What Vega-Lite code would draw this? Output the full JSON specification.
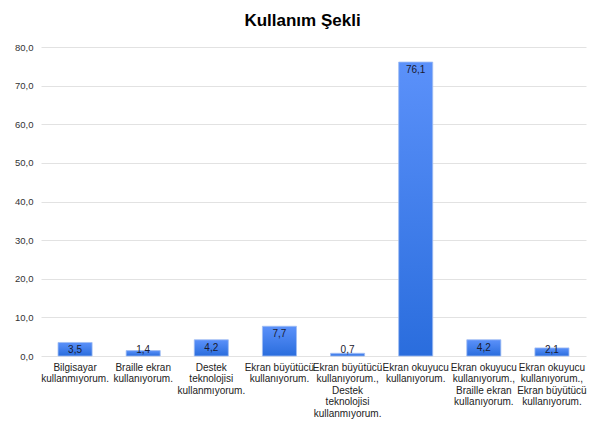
{
  "$schema": "https://vega.github.io/schema/vega-lite/v6.json",
  "autosize": "none",
  "width": 545,
  "height": 309,
  "padding": {"left": 41, "top": 47, "right": 4, "bottom": 67},
  "background": "white",
  "title": {
    "text": "Kullanım Şekli",
    "font": "Liberation Sans",
    "fontSize": 17,
    "fontWeight": "bold",
    "color": "#000000",
    "anchor": "middle",
    "dx": -11,
    "offset": 12
  },
  "data": {
    "values": [
      {"kategori": "Bilgisayar\nkullanmıyorum.", "deger": 3.5, "etiket": "3,5"},
      {"kategori": "Braille ekran\nkullanıyorum.", "deger": 1.4, "etiket": "1,4"},
      {"kategori": "Destek\nteknolojisi\nkullanmıyorum.", "deger": 4.2, "etiket": "4,2"},
      {"kategori": "Ekran büyütücü\nkullanıyorum.", "deger": 7.7, "etiket": "7,7"},
      {"kategori": "Ekran büyütücü\nkullanıyorum.,\nDestek\nteknolojisi\nkullanmıyorum.", "deger": 0.7, "etiket": "0,7"},
      {"kategori": "Ekran okuyucu\nkullanıyorum.", "deger": 76.1, "etiket": "76,1"},
      {"kategori": "Ekran okuyucu\nkullanıyorum.,\nBraille ekran\nkullanıyorum.", "deger": 4.2, "etiket": "4,2"},
      {"kategori": "Ekran okuyucu\nkullanıyorum.,\nEkran büyütücü\nkullanıyorum.", "deger": 2.1, "etiket": "2,1"}
    ]
  },
  "encoding": {
    "x": {
      "field": "kategori",
      "type": "nominal",
      "sort": null,
      "scale": {"paddingInner": 0.5, "paddingOuter": 0.25},
      "axis": {
        "title": null,
        "labelAngle": 0,
        "labelExpr": "split(datum.label, '\\n')",
        "labelFont": "Liberation Sans",
        "labelFontSize": 10,
        "labelColor": "#222222",
        "labelLineHeight": 11.5,
        "labelPadding": 6,
        "ticks": false,
        "domain": false,
        "labelLimit": 0
      }
    },
    "y": {
      "field": "deger",
      "type": "quantitative",
      "scale": {"domain": [0, 80]},
      "axis": {
        "title": null,
        "values": [0, 10, 20, 30, 40, 50, 60, 70, 80],
        "labelExpr": "replace(format(datum.value, '.1f'), '.', ',')",
        "labelFont": "Liberation Sans",
        "labelFontSize": 9.5,
        "labelColor": "#333333",
        "labelPadding": 8,
        "ticks": false,
        "domain": false,
        "gridColor": "#e2e2e2",
        "gridWidth": 1
      }
    }
  },
  "layer": [
    {
      "mark": {
        "type": "bar",
        "stroke": "#9fbdf3",
        "strokeWidth": 0.8,
        "color": {
          "gradient": "linear",
          "x1": 0, "y1": 0, "x2": 0, "y2": 1,
          "stops": [
            {"offset": 0, "color": "#5b91fa"},
            {"offset": 1, "color": "#2a6ddd"}
          ]
        }
      }
    },
    {
      "transform": [{"calculate": "max(datum.deger, 3.7)", "as": "etiketKonum"}],
      "mark": {
        "type": "text",
        "baseline": "top",
        "dy": 3,
        "font": "Liberation Sans",
        "fontSize": 10,
        "color": "#1a1a2e"
      },
      "encoding": {
        "y": {"field": "etiketKonum", "type": "quantitative"},
        "text": {"field": "etiket"}
      }
    }
  ],
  "config": {"view": {"stroke": null}}
}
